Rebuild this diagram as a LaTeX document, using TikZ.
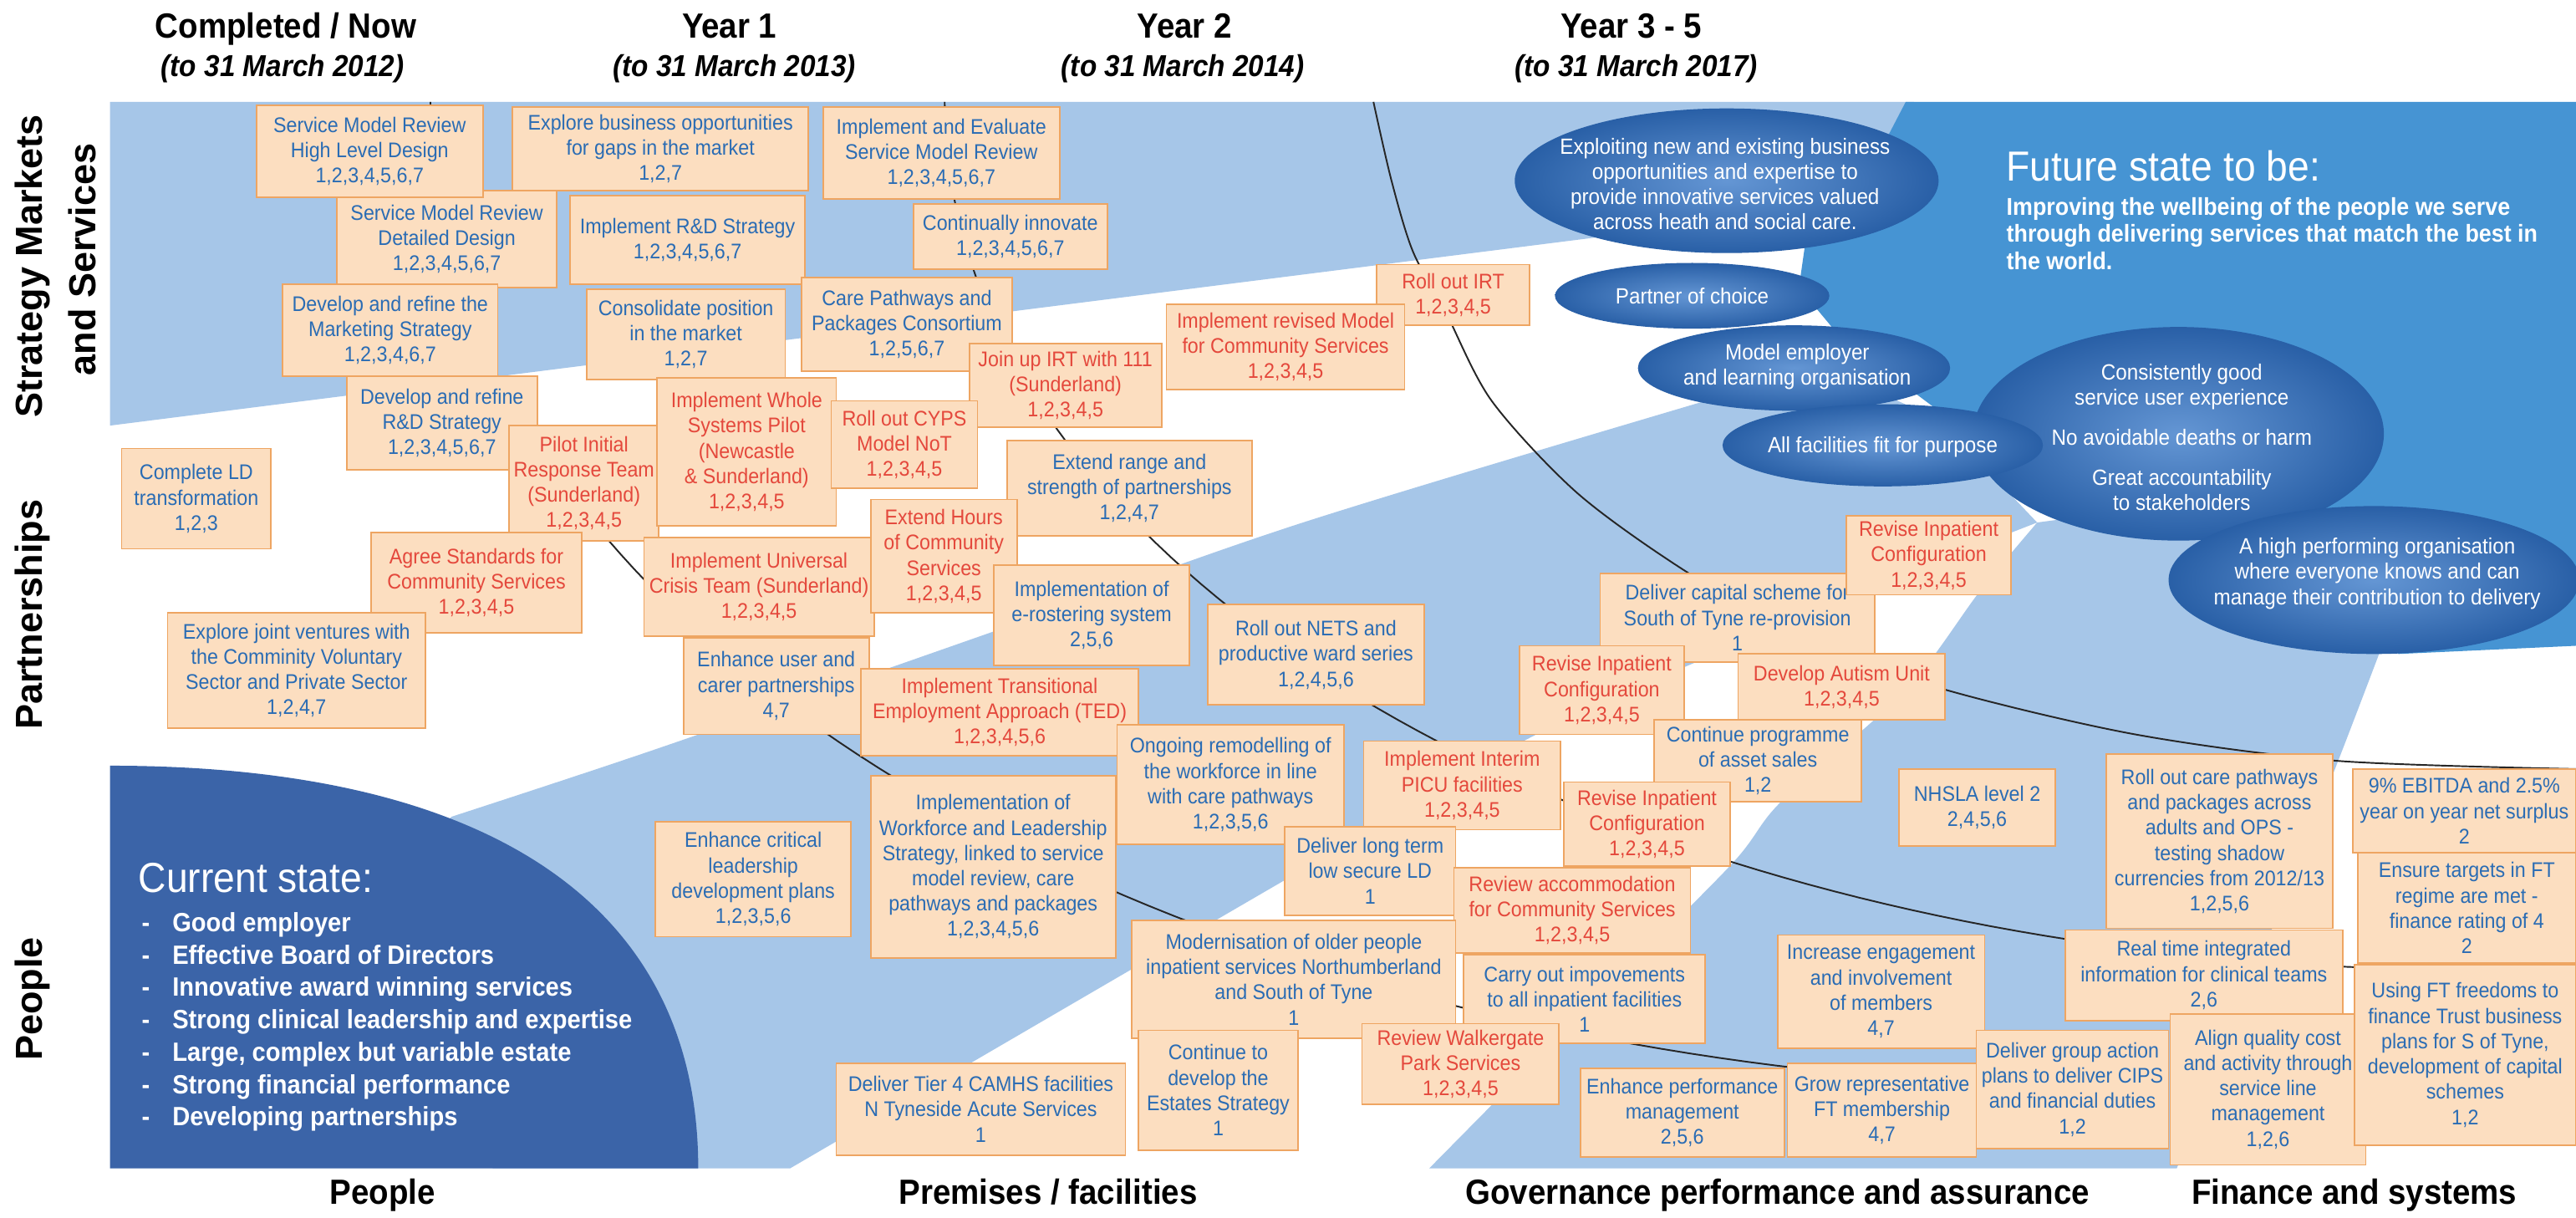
\documentclass[tikz,border=0pt]{standalone}
\usepackage{fontspec}
\setmainfont{Liberation Sans}[FakeStretch=0.92]
\newfontfamily\labfont{Liberation Sans}
\usetikzlibrary{shapes.geometric}
\definecolor{lblue}{RGB}{166,198,232}
\definecolor{mblue}{RGB}{70,148,211}
\definecolor{dblue}{RGB}{59,100,168}
\definecolor{ellin}{RGB}{100,150,212}
\definecolor{ellout}{RGB}{22,78,152}
\definecolor{boxfill}{RGB}{252,222,192}
\definecolor{boxedge}{RGB}{238,165,98}
\definecolor{tblue}{RGB}{42,108,180}
\definecolor{tred}{RGB}{228,72,60}
\pgfdeclareradialshading{ellshade}{\pgfpoint{0bp}{0bp}}{color(0bp)=(ellin); color(33bp)=(ellout); color(50bp)=(ellout)}
\newcommand{\tbox}[7]{%
  \pgfmathsetmacro\bw{(#4-#2)*0.019656}%
  \pgfmathsetmacro\bh{(#5-#3)*0.019656}%
  \node[tb,text=#6,minimum width=\bw cm,minimum height=\bh cm] (#1) at ({(#2+#4)/2},{(#3+#5)/2}) {#7};}
\begin{document}
\begin{tikzpicture}[x=0.019656cm,y=-0.019656cm,
  tb/.style={draw=boxedge,fill=boxfill,line width=0.5pt,align=center,inner sep=0.5pt,font=\fontsize{7.2}{8.6}\selectfont},
  ell/.style={ellipse,draw=none,shading=ellshade,inner sep=0pt},
  etxt/.style={text=white,align=center,inner sep=0pt,font=\fontsize{7.5}{8.6}\selectfont},
  hdr/.style={anchor=base,font=\bfseries\fontsize{11.9}{14}\selectfont},
  subh/.style={anchor=base,font=\bfseries\itshape\fontsize{10.3}{12}\selectfont},
  btm/.style={anchor=base,font=\bfseries\fontsize{11.9}{14}\selectfont},
  side/.style={rotate=90,font=\labfont\bfseries\fontsize{12.8}{15}\selectfont},
  arcline/.style={draw=black!85,line width=0.55pt},
  stitle/.style={anchor=base west,inner sep=0pt,text=white,font=\fontsize{14.3}{17}\selectfont},
  fbody/.style={anchor=base west,inner sep=0pt,text=white,font=\bfseries\fontsize{8.3}{10}\selectfont},
  bul/.style={anchor=base west,inner sep=0pt,text=white,font=\bfseries\fontsize{9}{11}\selectfont}]
\useasboundingbox (0,0) rectangle (1568,741);
\fill[white] (0,0) rectangle (1568,741);
% ---------- background bands ----------
\fill[white] (67,62) rectangle (1568,711);
\fill[lblue] (67,62) -- (1165,62) -- (1165,120) -- (67,259) -- cycle;
\fill[lblue] (200,560) -- (275,497) -- plot[smooth] coordinates {(275,497) (399,456) (600,386) (790,319) (1038,244) (1110,224)}
   -- (1180,255) -- (1240,318) -- plot[smooth] coordinates {(1240,318) (1140,358) (945,442) (790,531) (481,711)} -- (300,711) -- cycle;
\fill[lblue] plot[smooth] coordinates {(870,711) (960,620) (1053,527) (1084,488) (1160,420) (1205,360) (1240,318)}
   -- (1300,310) -- (1385,338) -- (1450,393) -- plot[smooth] coordinates {(1450,393) (1424,461) (1385,560) (1325,711)} -- cycle;
\fill[mblue] (1160,62) -- (1568,62) -- (1568,393) -- (1460,398) -- (1385,338) -- (1300,305) -- (1215,292) -- (1180,250) -- (1120,205) -- (1095,175) -- (1100,140) -- (1135,110) -- cycle;
\fill[dblue] (67,466) .. controls (300,466) and (425,552) .. (425,711) -- (67,711) -- cycle;
% ---------- year arcs ----------
\draw[arcline] plot[domain=180:270,samples=90,variable=\t] ({1300+1038*cos(\t)},{62-600*sin(\t)});
\draw[arcline] plot[domain=180:274,samples=90,variable=\t] ({1500+925*cos(\t)},{62-528*sin(\t)});
\draw[arcline] plot[smooth] coordinates {(836,62) (847,110) (860,153) (880,190) (908,244) (960,300) (1025,347) (1100,390) (1185,420) (1300,447) (1422,463) (1568,468)};
% ---------- ellipses ----------
\node[ell,minimum width=4.914cm,minimum height=2.555cm] (e5) at (1326,264) {};
\node[ell,minimum width=4.914cm,minimum height=1.769cm] (e6) at (1445,353) {};
\node[ell,minimum width=5.071cm,minimum height=1.730cm] (e1) at (1051,110) {};
\node[ell,minimum width=3.283cm,minimum height=0.786cm] (e2) at (1030,180) {};
\node[ell,minimum width=3.735cm,minimum height=1.022cm] (e3) at (1092,224) {};
\node[ell,minimum width=3.833cm,minimum height=0.983cm] (e4) at (1146,271) {};
\node[etxt] (e1t) at (1050,112) {Exploiting new and existing business\\opportunities and expertise to\\provide innovative services valued\\across heath and social care.};
\node[etxt] (e2t) at (1030,180) {Partner of choice};
\node[etxt] (e3t) at (1094,223) {Model employer\\and learning organisation};
\node[etxt] (e4t) at (1146,272) {All facilities fit for purpose};
\node[etxt] (e5t) at (1328,266) {Consistently good\\service user experience\\[5pt]No avoidable deaths or harm\\[5pt]Great accountability\\to stakeholders};
\node[etxt] (e6t) at (1447,349) {A high performing organisation\\where everyone knows and can\\manage their contribution to delivery};
% ---------- future / current state ----------
\node[stitle] (fs) at (1221,110) {Future state to be:};
\node[fbody] (fb1) at (1221,131) {Improving the wellbeing of the people we serve};
\node[fbody] (fb2) at (1221,147.5) {through delivering services that match the best in};
\node[fbody] (fb3) at (1221,164) {the world.};
\node[stitle] (cs) at (84,543) {Current state:};
\node[bul] (c1) at (86,567) {\makebox[10.4pt][l]{-}Good employer};
\node[bul] (c2) at (86,586.7) {\makebox[10.4pt][l]{-}Effective Board of Directors};
\node[bul] (c3) at (86,606.4) {\makebox[10.4pt][l]{-}Innovative award winning services};
\node[bul] (c4) at (86,626.1) {\makebox[10.4pt][l]{-}Strong clinical leadership and expertise};
\node[bul] (c5) at (86,645.8) {\makebox[10.4pt][l]{-}Large, complex but variable estate};
\node[bul] (c6) at (86,665.5) {\makebox[10.4pt][l]{-}Strong financial performance};
\node[bul] (c7) at (86,685.2) {\makebox[10.4pt][l]{-}Developing partnerships};
% ---------- boxes ----------
\tbox{b4}{205}{116}{339}{175}{tblue}{Service Model Review\\Detailed Design\\1,2,3,4,5,6,7}
\tbox{b1}{156}{64}{294}{120}{tblue}{Service Model Review\\High Level Design\\1,2,3,4,5,6,7}
\tbox{b2}{312}{65}{492}{116}{tblue}{Explore business opportunities\\for gaps in the market\\1,2,7}
\tbox{b3}{501}{65}{645}{121}{tblue}{Implement and Evaluate\\Service Model Review\\1,2,3,4,5,6,7}
\tbox{b5}{347}{119}{490}{173}{tblue}{Implement R\&D Strategy\\1,2,3,4,5,6,7}
\tbox{b6}{556}{124}{674}{164}{tblue}{Continually innovate\\1,2,3,4,5,6,7}
\tbox{b7}{172}{173}{303}{229}{tblue}{Develop and refine the\\Marketing Strategy\\1,2,3,4,6,7}
\tbox{b8}{357}{176}{478}{231}{tblue}{Consolidate position\\in the market\\1,2,7}
\tbox{b9}{488}{169}{616}{226}{tblue}{Care Pathways and\\Packages Consortium\\1,2,5,6,7}
\tbox{b10}{838}{161}{931}{198}{tred}{Roll out IRT\\1,2,3,4,5}
\tbox{b11}{710}{185}{855}{237}{tred}{Implement revised Model\\for Community Services\\1,2,3,4,5}
\tbox{b12}{590}{209}{707}{260}{tred}{Join up IRT with 111\\(Sunderland)\\1,2,3,4,5}
\tbox{b13}{211}{229}{327}{286}{tblue}{Develop and refine\\R\&D Strategy\\1,2,3,4,5,6,7}
\tbox{b16}{310}{259}{401}{329}{tred}{Pilot Initial\\Response Team\\(Sunderland)\\1,2,3,4,5}
\tbox{b14}{400}{230}{509}{320}{tred}{Implement Whole\\Systems Pilot\\(Newcastle\\\& Sunderland)\\1,2,3,4,5}
\tbox{b15}{506}{244}{595}{297}{tred}{Roll out CYPS\\Model NoT\\1,2,3,4,5}
\tbox{b17}{74}{273}{165}{334}{tblue}{Complete LD\\transformation\\1,2,3}
\tbox{b18}{613}{268}{762}{326}{tblue}{Extend range and\\strength of partnerships\\1,2,4,7}
\tbox{b19}{226}{324}{354}{385}{tred}{Agree Standards for\\Community Services\\1,2,3,4,5}
\tbox{b21}{392}{327}{532}{387}{tred}{Implement Universal\\Crisis Team (Sunderland)\\1,2,3,4,5}
\tbox{b20}{530}{304}{619}{373}{tred}{Extend Hours\\of Community\\Services\\1,2,3,4,5}
\tbox{b22}{605}{344}{724}{405}{tblue}{Implementation of\\e-rostering system\\2,5,6}
\tbox{b23}{735}{368}{867}{429}{tblue}{Roll out NETS and\\productive ward series\\1,2,4,5,6}
\tbox{b24}{102}{373}{259}{443}{tblue}{Explore joint ventures with\\the Comminity Voluntary\\Sector and Private Sector\\1,2,4,7}
\tbox{b25}{416}{388}{529}{447}{tblue}{Enhance user and\\carer partnerships\\4,7}
\tbox{b26}{524}{407}{693}{460}{tred}{Implement Transitional\\Employment Approach (TED)\\1,2,3,4,5,6}
\tbox{b27}{974}{349}{1141}{403}{tblue}{Deliver capital scheme for\\South of Tyne re-provision\\1}
\tbox{b28}{1124}{314}{1224}{362}{tred}{Revise Inpatient\\Configuration\\1,2,3,4,5}
\tbox{b29}{925}{393}{1025}{447}{tred}{Revise Inpatient\\Configuration\\1,2,3,4,5}
\tbox{b30}{1058}{398}{1184}{438}{tred}{Develop Autism Unit\\1,2,3,4,5}
\tbox{b31}{1007}{438}{1133}{488}{tblue}{Continue programme\\of asset sales\\1,2}
\tbox{b32}{680}{441}{818}{514}{tblue}{Ongoing remodelling of\\the workforce in line\\with care pathways\\1,2,3,5,6}
\tbox{b33}{830}{451}{950}{505}{tred}{Implement Interim\\PICU facilities\\1,2,3,4,5}
\tbox{b34}{952}{476}{1053}{527}{tred}{Revise Inpatient\\Configuration\\1,2,3,4,5}
\tbox{b35}{1156}{468}{1251}{515}{tblue}{NHSLA level 2\\2,4,5,6}
\tbox{b36}{1282}{459}{1420}{565}{tblue}{Roll out care pathways\\and packages across\\adults and OPS -\\testing shadow\\currencies from 2012/13\\1,2,5,6}
\tbox{b37}{1432}{468}{1568}{519}{tblue}{9\% EBITDA and 2.5\%\\year on year net surplus\\2}
\tbox{b38}{1435}{519}{1568}{586}{tblue}{Ensure targets in FT\\regime are met -\\finance rating of 4\\2}
\tbox{b39}{530}{472}{679}{583}{tblue}{Implementation of\\Workforce and Leadership\\Strategy, linked to service\\model review, care\\pathways and packages\\1,2,3,4,5,6}
\tbox{b40}{399}{500}{518}{570}{tblue}{Enhance critical\\leadership\\development plans\\1,2,3,5,6}
\tbox{b41}{782}{503}{886}{557}{tblue}{Deliver long term\\low secure LD\\1}
\tbox{b42}{885}{528}{1029}{580}{tred}{Review accommodation\\for Community Services\\1,2,3,4,5}
\tbox{b43}{689}{560}{886}{632}{tblue}{Modernisation of older people\\inpatient services Northumberland\\and South of Tyne\\1}
\tbox{b44}{891}{581}{1038}{635}{tblue}{Carry out impovements\\to all inpatient facilities\\1}
\tbox{b45}{1082}{569}{1208}{638}{tblue}{Increase engagement\\and involvement\\of members\\4,7}
\tbox{b46}{1257}{566}{1426}{621}{tblue}{Real time integrated\\information for clinical teams\\2,6}
\tbox{b48}{509}{647}{685}{703}{tblue}{Deliver Tier 4 CAMHS facilities\\N Tyneside Acute Services\\1}
\tbox{b49}{693}{627}{790}{700}{tblue}{Continue to\\develop the\\Estates Strategy\\1}
\tbox{b50}{829}{623}{949}{672}{tred}{Review Walkergate\\Park Services\\1,2,3,4,5}
\tbox{b51}{962}{650}{1086}{704}{tblue}{Enhance performance\\management\\2,5,6}
\tbox{b52}{1088}{647}{1203}{704}{tblue}{Grow representative\\FT membership\\4,7}
\tbox{b53}{1203}{627}{1320}{699}{tblue}{Deliver group action\\plans to deliver CIPS\\and financial duties\\1,2}
\tbox{b54}{1321}{617}{1440}{709}{tblue}{Align quality cost\\and activity through\\service line\\management\\1,2,6}
\tbox{b47}{1433}{587}{1568}{697}{tblue}{Using FT freedoms to\\finance Trust business\\plans for S of Tyne,\\development of capital\\schemes\\1,2}
% ---------- headers and labels ----------
\node[hdr] (h0) at (174,23) {Completed / Now};
\node[subh] (s0) at (172,46.5) {(to 31 March 2012)};
\node[hdr] (h1) at (444,23) {Year 1};
\node[subh] (s1) at (447,46.5) {(to 31 March 2013)};
\node[hdr] (h2) at (721,23) {Year 2};
\node[subh] (s2) at (720,46.5) {(to 31 March 2014)};
\node[hdr] (h3) at (993,23) {Year 3 - 5};
\node[subh] (s3) at (996,46.5) {(to 31 March 2017)};
\node[side] (l1) at (20,162) {Strategy Markets};
\node[side] (l2) at (50,158) {and Services};
\node[side] (l3) at (20,374) {Partnerships};
\node[side] (l4) at (20,608) {People};
\node[btm] (f0) at (233,733) {People};
\node[btm] (f1) at (638,733) {Premises / facilities};
\node[btm] (f2) at (1082,733) {Governance performance and assurance};
\node[btm] (f3) at (1433,733) {Finance and systems};
\end{tikzpicture}
\end{document}
